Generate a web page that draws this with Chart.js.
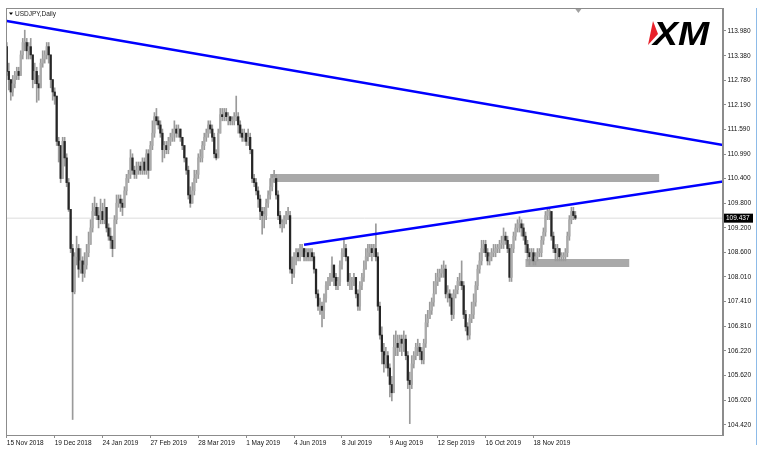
<!DOCTYPE html>
<html>
<head>
<meta charset="utf-8">
<title>USDJPY,Daily</title>
<script src="https://cdn.jsdelivr.net/npm/chart.js@4.4.1/dist/chart.umd.min.js"></script>
<style>
  html, body { margin: 0; padding: 0; background: #fff; }
  canvas { display: block; }
</style>
</head>
<body>
<canvas id="chart" width="764" height="455"></canvas>
<script>
// USDJPY daily candles, 15 Nov 2018 .. mid Dec 2019
const symbolTitle = 'USDJPY,Daily';
const firstOpen = 113.6;

const closes = [
  113.0,112.8,112.5,112.7,112.9,113.0,112.9,113.4,113.7,113.7,113.5,113.6,
  113.4,112.8,113.0,112.7,112.6,113.2,113.3,113.4,113.6,113.4,112.8,112.5,
  112.4,111.3,111.2,110.4,111.3,110.9,110.3,109.65,108.7,107.65,108.5,108.7,
  108.2,108.4,108.1,108.3,108.6,108.8,109.2,109.6,109.7,109.5,109.4,109.6,
  109.4,109.7,109.2,109.0,108.9,108.7,109.4,109.8,109.9,109.8,109.7,110.1,
  110.4,110.5,110.9,110.6,110.5,110.6,110.7,110.6,110.8,110.6,111.0,110.6,
  111.2,111.5,111.9,111.8,111.7,111.5,111.1,111.2,111.1,111.3,111.4,111.5,
  111.6,111.5,111.6,111.4,111.2,110.9,110.6,110.0,109.8,110.1,110.4,110.5,
  110.9,110.9,111.2,111.4,111.5,111.7,111.6,111.4,111.0,110.9,111.5,111.95,
  111.9,112.0,111.9,111.9,111.8,111.8,111.9,111.9,111.7,111.5,111.4,111.5,
  111.3,111.4,111.1,110.4,110.3,110.1,109.9,109.6,109.5,109.5,109.8,110.0,
  110.2,110.4,110.4,110.0,109.5,109.3,109.3,109.4,109.5,109.5,108.2,108.1,
  108.5,108.6,108.5,108.7,108.7,108.5,108.6,108.5,108.6,108.5,108.2,107.6,
  107.3,107.3,107.2,107.5,107.8,107.9,108.0,108.3,108.0,107.8,107.9,108.3,
  108.6,108.7,108.5,107.9,107.9,107.9,108.0,107.6,107.3,107.8,108.0,108.2,
  108.5,108.6,108.7,108.6,108.7,108.5,107.3,106.6,106.2,105.9,106.1,105.8,
  105.4,105.2,106.3,106.4,106.3,106.5,106.4,106.5,106.1,105.5,105.4,105.9,
  106.1,106.3,106.3,106.2,106.0,106.4,106.9,107.0,107.2,107.4,107.6,107.9,
  108.0,108.1,108.2,108.2,107.6,107.6,107.5,107.1,107.6,107.7,107.9,107.9,
  107.8,107.1,106.8,106.6,107.0,107.1,107.4,107.8,108.2,108.4,108.7,108.8,
  108.6,108.4,108.5,108.6,108.6,108.7,108.7,108.8,108.8,109.0,108.9,108.7,
  108.0,108.7,109.0,109.2,109.3,109.3,109.2,109.0,108.8,108.6,108.5,108.6,
  108.4,108.5,108.6,108.6,108.9,109.1,109.5,109.6,109.6,109.0,108.7,108.6,
  108.7,108.5,108.5,108.5,108.6,109.0,109.4,109.6,109.5,109.437
];

const highs = [
  113.7,113.2,112.8,112.9,113.0,113.1,113.1,113.5,113.8,114.0,113.8,113.7,
  113.8,113.4,113.2,113.1,112.9,113.3,113.5,113.5,113.7,113.7,113.4,112.8,
  112.6,112.4,111.4,111.2,111.4,111.4,111.0,110.4,109.6,108.8,108.6,109.0,
  108.8,108.7,108.5,108.6,108.8,109.1,109.4,109.8,109.95,109.8,109.7,109.9,
  109.8,109.9,109.7,109.3,109.2,109.0,109.5,110.0,110.0,110.0,109.9,110.2,
  110.5,110.6,111.1,111.0,110.7,110.8,110.8,110.8,110.9,110.9,111.1,111.1,
  111.3,111.8,112.0,112.1,111.9,111.8,111.6,111.3,111.3,111.4,111.5,111.6,
  111.8,111.7,111.7,111.6,111.4,111.2,110.9,110.7,110.2,110.3,110.6,110.6,
  111.0,111.1,111.3,111.5,111.6,111.8,111.8,111.7,111.5,111.1,111.6,112.1,
  112.1,112.1,112.1,112.0,111.9,111.9,112.0,112.4,112.0,111.8,111.6,111.6,
  111.5,111.6,111.5,110.9,110.5,110.4,110.2,110.0,109.7,109.7,109.9,110.1,
  110.4,110.5,110.6,110.5,110.1,109.6,109.4,109.5,109.6,109.7,109.6,108.5,
  108.6,108.7,108.7,108.8,108.8,108.7,108.7,108.7,108.7,108.7,108.6,108.2,
  107.7,107.5,107.4,107.6,107.9,108.0,108.1,108.5,108.3,108.1,108.0,108.4,
  108.7,108.9,108.8,108.5,108.1,108.0,108.1,108.0,107.7,107.9,108.1,108.4,
  108.7,108.8,108.8,108.8,108.8,109.3,108.6,107.4,106.8,106.4,106.3,106.2,
  105.9,105.6,106.6,106.7,106.6,106.6,106.6,106.7,106.6,106.2,105.7,106.1,
  106.2,106.4,106.5,106.4,106.3,106.5,107.1,107.2,107.4,107.5,107.9,108.1,
  108.2,108.2,108.3,108.4,108.3,107.8,107.7,107.6,107.7,107.8,108.0,108.1,
  108.4,107.9,107.2,106.9,107.1,107.4,107.6,107.9,108.3,108.6,108.9,108.9,
  108.9,108.7,108.6,108.7,108.8,108.8,108.8,108.9,109.0,109.2,109.1,109.0,
  108.8,108.8,109.1,109.3,109.4,109.47,109.4,109.3,109.1,108.9,108.7,108.7,
  108.7,108.6,108.7,108.7,109.0,109.2,109.6,109.7,109.7,109.6,109.1,108.8,
  108.8,108.7,108.6,108.6,108.7,109.1,109.5,109.7,109.7,109.6
];

const lows = [
  112.9,112.55,112.3,112.4,112.6,112.8,112.8,112.9,113.3,113.5,113.3,113.3,
  113.3,112.6,112.7,112.25,112.3,112.6,113.1,113.2,113.3,113.2,112.6,112.3,
  112.2,111.2,110.8,110.3,110.4,110.7,110.2,109.6,108.6,104.55,107.6,108.3,
  108.0,108.1,107.9,108.0,108.2,108.5,108.8,109.1,109.5,109.4,109.2,109.3,
  109.3,109.3,109.1,108.9,108.7,108.5,108.7,109.3,109.7,109.6,109.5,109.7,
  110.0,110.3,110.4,110.5,110.4,110.4,110.5,110.5,110.5,110.5,110.5,110.4,
  110.6,111.1,111.4,111.7,111.6,111.4,110.8,110.9,111.0,111.0,111.2,111.3,
  111.3,111.4,111.4,111.3,111.1,110.8,110.5,109.9,109.7,109.8,110.0,110.3,
  110.4,110.8,110.8,111.1,111.3,111.4,111.5,111.3,110.9,110.85,110.9,111.5,
  111.8,111.8,111.8,111.7,111.7,111.7,111.7,111.8,111.5,111.4,111.3,111.3,
  111.2,111.2,111.0,110.3,110.2,110.0,109.7,109.4,109.05,109.2,109.4,109.7,
  109.9,110.1,110.3,109.9,109.4,109.2,109.1,109.2,109.3,109.4,108.1,107.85,
  108.0,108.3,108.4,108.4,108.5,108.4,108.4,108.4,108.4,108.4,108.1,107.5,
  107.2,107.1,106.8,107.0,107.4,107.7,107.8,107.9,107.8,107.7,107.7,107.8,
  108.2,108.5,108.4,107.8,107.7,107.7,107.8,107.5,107.2,107.2,107.7,107.9,
  108.2,108.4,108.5,108.4,108.5,108.4,107.2,106.5,105.9,105.7,105.8,105.6,
  105.1,105.0,105.2,106.1,106.1,106.2,106.1,106.2,106.0,105.3,104.45,105.3,
  105.8,106.0,106.1,106.0,105.9,105.9,106.3,106.8,107.0,107.1,107.3,107.6,
  107.8,107.9,108.0,108.0,107.5,107.4,107.3,106.95,107.0,107.5,107.6,107.8,
  107.7,107.0,106.7,106.48,106.5,106.9,107.0,107.3,107.7,108.1,108.3,108.6,
  108.5,108.3,108.3,108.4,108.5,108.5,108.6,108.6,108.7,108.7,108.8,108.6,
  107.9,107.9,108.6,108.9,109.1,109.1,109.0,108.9,108.6,108.4,108.3,108.4,
  108.3,108.3,108.4,108.5,108.5,108.8,109.0,109.4,109.4,108.9,108.6,108.4,
  108.4,108.4,108.4,108.4,108.4,108.5,108.9,109.3,109.4,109.4
];

const dateLabels = ['15 Nov 2018', '19 Dec 2018', '24 Jan 2019', '27 Feb 2019', '28 Mar 2019', '1 May 2019',
                    '4 Jun 2019', '8 Jul 2019', '9 Aug 2019', '12 Sep 2019', '16 Oct 2019', '18 Nov 2019'];
const dateLabelStep = 24; // bars between date labels
const priceTicks = [113.98, 113.38, 112.78, 112.19, 111.59, 110.99, 110.40, 109.80, 109.20,
                    108.60, 108.01, 107.41, 106.81, 106.22, 105.62, 105.02, 104.42];

// drawn objects (bar index, price)
const fallingTrend = [{x: 0, y: 114.22}, {x: 359, y: 111.21}];
const risingTrend = [{x: 149, y: 108.79}, {x: 359, y: 110.33}];
const upperZone = [{x: 132, y: 110.41}, {x: 327, y: 110.41}];
const lowerZone = [{x: 260, y: 108.35}, {x: 312, y: 108.35}];
const bidPrice = 109.437;

const opens = closes.map((c, i) => i === 0 ? firstOpen : closes[i - 1]);
const wickData = closes.map((c, i) => ({x: i, y: [Math.min(lows[i], opens[i], c), Math.max(highs[i], opens[i], c)]}));
const bodyData = closes.map((c, i) => ({x: i, y: [opens[i], c]}));
const bidLine = [{x: -0.4, y: bidPrice}, {x: 359, y: bidPrice}];

const FONT = 'Liberation Sans';
const AXIS = '#8c8c8c';

const decorations = {
    id: 'decorations',
    beforeDraw(chart) {
        const c = chart.ctx;
        c.save();
        c.fillStyle = '#fff';
        c.fillRect(0, 0, chart.width, chart.height);
        c.restore();
    },
    afterDraw(chart) {
        const c = chart.ctx;
        const a = chart.chartArea;
        const xs = chart.scales.x, ys = chart.scales.y;
        c.save();

        // frame
        c.strokeStyle = AXIS;
        c.lineWidth = 1;
        c.strokeRect(a.left + 0.5, a.top + 0.5, a.right - a.left - 1, a.bottom - a.top);

        // light blue window edge
        c.strokeStyle = '#8dbbe8';
        c.beginPath();
        c.moveTo(756.5, a.top);
        c.lineTo(756.5, a.bottom + 10);
        c.stroke();

        // title
        c.fillStyle = '#000';
        c.beginPath();
        c.moveTo(9, 12.5); c.lineTo(13, 12.5); c.lineTo(11, 15);
        c.closePath(); c.fill();
        c.font = '6.5px "' + FONT + '"';
        c.textBaseline = 'middle';
        c.textAlign = 'left';
        c.fillStyle = '#222';
        c.fillText(symbolTitle, 15, 14);

        // chart shift marker
        const sx = xs.getPixelForValue(closes.length + 0.5);
        c.fillStyle = '#a0a0a0';
        c.beginPath();
        c.moveTo(sx - 3, a.top + 1); c.lineTo(sx + 3, a.top + 1); c.lineTo(sx, a.top + 5);
        c.closePath(); c.fill();

        // bid tag
        const by = ys.getPixelForValue(bidPrice);
        c.fillStyle = '#000';
        c.fillRect(a.right + 1, by - 4.5, 29, 9);
        c.fillStyle = '#fff';
        c.font = '6.5px "' + FONT + '"';
        c.fillText(bidPrice.toFixed(3), a.right + 3, by);

        // XM logo
        c.fillStyle = '#e8212a';
        c.beginPath();
        c.moveTo(653, 21); c.lineTo(658, 34); c.lineTo(648, 45);
        c.closePath(); c.fill();
        c.fillStyle = '#000';
        c.translate(653, 45);
        c.scale(1.1, 1);
        c.font = 'italic bold 34px "' + FONT + '"';
        c.textBaseline = 'alphabetic';
        c.fillText('XM', 0, 0);

        c.restore();
    }
};

new Chart(document.getElementById('chart'), {
    type: 'bar',
    data: {
        datasets: [
            { type: 'line', label: 'falling', data: fallingTrend, borderColor: '#0000ff', borderWidth: 2.5, pointRadius: 0, order: 0 },
            { type: 'line', label: 'rising', data: risingTrend, borderColor: '#0000ff', borderWidth: 2.5, pointRadius: 0, order: 0 },
            {
                type: 'bar', label: 'bodies', data: bodyData, grouped: false, barThickness: 1.6, minBarLength: 1, order: 1,
                backgroundColor: ctx => (ctx.dataIndex !== undefined && closes[ctx.dataIndex] >= opens[ctx.dataIndex]) ? '#ababab' : '#262626'
            },
            { type: 'bar', label: 'wicks', data: wickData, grouped: false, barThickness: 1, backgroundColor: '#9a9a9a', order: 2 },
            { type: 'line', label: 'zone1', data: upperZone, borderColor: '#a9a9a9', borderWidth: 8, pointRadius: 0, order: 3 },
            { type: 'line', label: 'zone2', data: lowerZone, borderColor: '#a9a9a9', borderWidth: 8, pointRadius: 0, order: 3 },
            { type: 'line', label: 'bid', data: bidLine, borderColor: '#dcdcdc', borderWidth: 1, pointRadius: 0, order: 4 }
        ]
    },
    options: {
        responsive: false,
        animation: false,
        events: [],
        layout: { padding: { left: 6, top: 8, right: 0, bottom: 0 } },
        plugins: { legend: { display: false }, tooltip: { enabled: false } },
        scales: {
            x: {
                type: 'linear', min: -0.4, max: 359, offset: false,
                afterBuildTicks: s => { s.ticks = dateLabels.map((_, k) => ({ value: k * dateLabelStep })); },
                afterFit: s => { s.height = 20; },
                ticks: {
                    autoSkip: false, maxRotation: 0, align: 'start', padding: 1, color: '#111',
                    font: { family: FONT, size: 6.5 },
                    callback: v => dateLabels[Math.round(v / dateLabelStep)] || ''
                },
                grid: { display: true, drawOnChartArea: false, tickLength: 3, color: AXIS, offset: false },
                border: { color: AXIS }
            },
            y: {
                type: 'linear', position: 'right', min: 104.174, max: 114.538,
                afterBuildTicks: s => { s.ticks = priceTicks.map(v => ({ value: v })); },
                afterFit: s => { s.width = 41; },
                ticks: { padding: 1.5, color: '#111', font: { family: FONT, size: 6.5 }, callback: v => v.toFixed(3) },
                grid: { drawOnChartArea: false, tickLength: 3, color: AXIS },
                border: { color: AXIS }
            }
        }
    },
    plugins: [decorations]
});
</script>
</body>
</html>
